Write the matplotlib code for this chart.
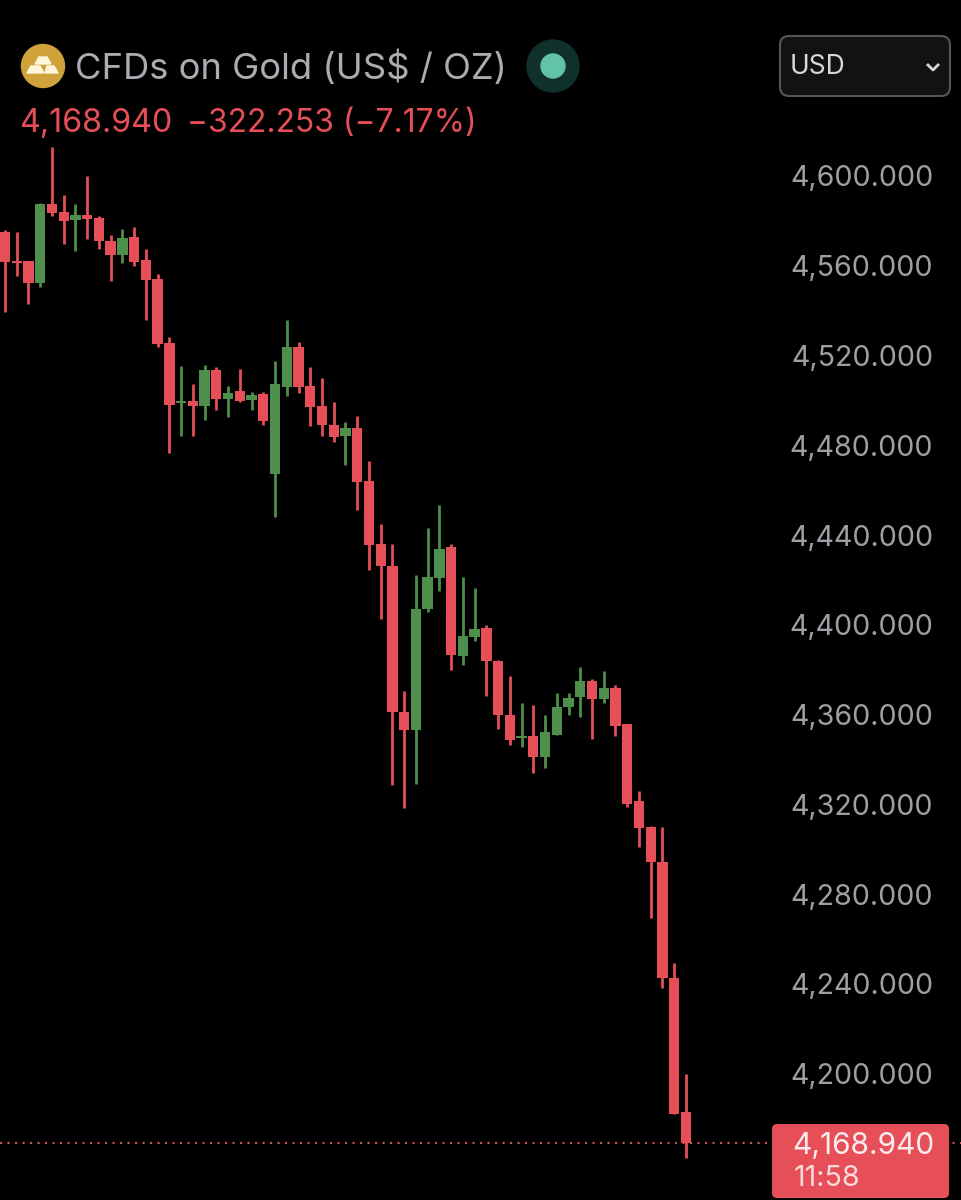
import matplotlib
matplotlib.use('Agg')
import matplotlib.pyplot as plt
from matplotlib.patches import Circle, FancyBboxPatch, Polygon

plt.rcParams['font.family'] = ['Inter', 'DejaVu Sans']

# candles (oldest first)
opens = [4575.0, 4562.1, 4562.1, 4552.3, 4587.5, 4584.0, 4580.4, 4582.6, 4581.3, 4571.0,
         4564.8, 4572.8, 4562.6, 4554.1, 4525.6, 4498.8, 4499.7, 4497.5, 4513.5, 4500.6,
         4504.2, 4500.2, 4502.9, 4467.2, 4506.0, 4523.8, 4506.4, 4497.5, 4489.0, 4484.1,
         4487.7, 4464.1, 4436.0, 4426.2, 4361.1, 4353.1, 4407.0, 4420.9, 4434.7, 4386.1,
         4394.6, 4398.6, 4383.9, 4359.8, 4349.6, 4350.4, 4341.1, 4350.9, 4363.4, 4367.8,
         4375.0, 4366.9, 4371.8, 4355.8, 4321.5, 4309.9, 4294.3, 4242.6, 4182.9]
highs = [4575.9, 4575.0, 4562.1, 4588.0, 4612.9, 4591.5, 4587.5, 4600.0, 4582.2, 4573.7,
         4576.4, 4577.3, 4567.5, 4556.3, 4528.3, 4515.3, 4507.3, 4515.8, 4514.9, 4506.4,
         4514.0, 4503.7, 4503.7, 4517.6, 4535.8, 4526.0, 4514.9, 4510.0, 4499.3, 4490.4,
         4493.0, 4473.0, 4444.9, 4436.0, 4370.5, 4422.2, 4443.1, 4453.4, 4436.0, 4421.3,
         4416.4, 4399.9, 4384.3, 4377.2, 4365.2, 4364.3, 4359.8, 4369.6, 4369.6, 4381.2,
         4375.9, 4379.4, 4373.2, 4355.8, 4325.9, 4310.3, 4309.9, 4249.3, 4199.8]
lows = [4539.4, 4555.4, 4543.0, 4550.5, 4582.2, 4569.7, 4566.6, 4571.9, 4567.5, 4553.2,
        4561.2, 4559.9, 4535.8, 4523.8, 4476.6, 4484.1, 4484.1, 4491.3, 4495.7, 4492.6,
        4499.3, 4495.7, 4489.0, 4448.0, 4502.0, 4503.3, 4488.6, 4484.1, 4481.5, 4471.2,
        4451.2, 4424.4, 4402.6, 4328.6, 4318.4, 4329.1, 4405.7, 4415.1, 4379.9, 4382.1,
        4392.8, 4368.3, 4353.6, 4346.4, 4345.5, 4334.0, 4336.2, 4350.9, 4359.8, 4358.9,
        4349.1, 4365.2, 4350.4, 4318.8, 4301.0, 4269.3, 4238.1, 4182.0, 4162.4]
closes = [4561.7, 4561.2, 4552.3, 4587.5, 4583.5, 4580.0, 4582.6, 4580.8, 4571.0, 4564.8,
          4572.4, 4561.7, 4553.7, 4525.1, 4498.0, 4499.7, 4497.5, 4513.5, 4500.6, 4503.3,
          4499.7, 4502.4, 4490.8, 4507.3, 4523.8, 4506.0, 4497.1, 4489.0, 4483.7, 4487.7,
          4463.6, 4435.6, 4426.2, 4361.1, 4353.1, 4407.0, 4421.3, 4433.8, 4386.5, 4395.0,
          4398.1, 4383.9, 4359.8, 4348.7, 4350.0, 4341.1, 4352.2, 4363.4, 4367.4, 4375.0,
          4366.9, 4371.8, 4354.9, 4320.1, 4309.5, 4294.3, 4242.6, 4182.0, 4168.94]

yticks = [4600, 4560, 4520, 4480, 4440, 4400, 4360, 4320, 4280, 4240, 4200]
last_price = 4168.94

RED = '#E64E58'
GREEN = '#4D8F4B'
GREY = '#9C9FA4'

fig = plt.figure(figsize=(9.61, 12), dpi=100, facecolor='black')
ax = fig.add_axes([0, 0, 1, 1], facecolor='black')

xs = list(range(len(opens)))
colors = [GREEN if c > o else RED for o, c in zip(opens, closes)]
ax.vlines(xs, lows, highs, colors=colors, linewidth=2.0, zorder=2)
bottoms = [min(o, c) for o, c in zip(opens, closes)]
heights = [max(abs(c - o), 0.9) for o, c in zip(opens, closes)]
ax.bar(xs, heights, bottom=bottoms, width=0.88, color=colors, linewidth=0, zorder=3)

ax.axhline(last_price, color='#D9505A', linewidth=1.5, linestyle=(0, (1, 2.6)), zorder=1)

ax.set_xlim(-0.426, 81.43)
ax.set_ylim(4143.7, 4678.4)
ax.yaxis.tick_right()
ax.set_yticks(yticks)
ax.set_yticklabels([f'{v:,.3f}' for v in yticks], ha='right', color=GREY, fontsize=20.6)
ax.tick_params(axis='y', length=0, pad=-20)
ax.set_xticks([])
for s in ax.spines.values():
    s.set_visible(False)

# header and price tag, placed in image pixels
ui = fig.add_axes([0, 0, 1, 1], facecolor='none')
ui.set_xlim(0, 961)
ui.set_ylim(1200, 0)
ui.axis('off')

ui.add_patch(Circle((43, 66), 21.5, color='#CFA33A'))
ui.add_patch(Polygon([[39, 57], [47, 57], [51, 64], [35, 64]], color='#FFF6DC'))
ui.add_patch(Polygon([[31, 66], [40, 66], [44, 73], [27, 73]], color='#FFF6DC'))
ui.add_patch(Polygon([[47, 66], [54, 66], [58, 73], [45, 73]], color='#FFF6DC'))

ui.text(75, 68, 'CFDs on Gold (US$ / OZ)', color='#A9ACB1', fontsize=26.2, va='center', ha='left')
ui.text(19, 124, '4,168.940', color=RED, fontsize=23.2, va='center', ha='left')
ui.text(187, 124, '\u2212322.253 (\u22127.17%)', color=RED, fontsize=22.9, va='center', ha='left')

ui.add_patch(Circle((553, 66), 26, color='#10302C'))
ui.add_patch(Circle((553, 66), 12, color='#62C3A6'))

ui.add_patch(FancyBboxPatch((780, 36), 170, 60, boxstyle='round,pad=0,rounding_size=9',
                            facecolor='#121212', edgecolor='#555555', linewidth=1.5))
ui.text(790, 67, 'USD', color='#D8D8D8', fontsize=19, va='center', ha='left')
ui.plot([928, 933, 938], [65, 70, 65], color='#D8D8D8', linewidth=2)

ui.add_patch(FancyBboxPatch((772, 1124), 177, 74, boxstyle='round,pad=0,rounding_size=5',
                            facecolor=RED, edgecolor='none'))
ui.text(792, 1146, '4,168.940', color='#FBEDEE', fontsize=21.5, va='center', ha='left')
ui.text(794, 1179, '11:58', color='#F8DADC', fontsize=20.6, va='center', ha='left')

fig.savefig('out.png', dpi=100, facecolor='black')
